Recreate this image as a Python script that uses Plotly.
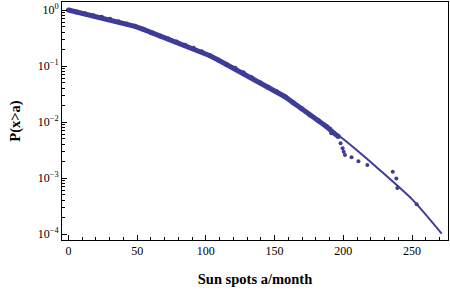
import plotly.graph_objects as go

# Empirical distribution P(x>a) of monthly sun spot numbers (dense part)
sun_a = [0.0, 5.9, 12.0, 18.1, 24.1, 30.2, 36.3, 42.3, 48.4, 54.5, 60.5, 66.6,
         72.7, 78.7, 84.8, 90.9, 96.9, 103.0, 109.0, 115.1, 121.2, 127.2, 133.3,
         139.4, 145.4, 151.5, 157.6, 163.6, 169.7, 175.8, 181.8, 187.9, 192.7, 196.4]
sun_p = [1.0, 0.920, 0.861, 0.793, 0.740, 0.681, 0.619, 0.562, 0.511, 0.452,
         0.394, 0.344, 0.303, 0.269, 0.234, 0.207, 0.180, 0.153, 0.128, 0.106,
         0.0908, 0.0760, 0.0619, 0.0504, 0.0416, 0.0348, 0.0283, 0.0221, 0.0175,
         0.0133, 0.0106, 0.00826, 0.00646, 0.00550]

# Sparse tail points
tail_a = [190.5, 191.2, 198.0, 199.5, 200.3, 201.2, 206.0, 211.0, 217.5,
          236.0, 238.6, 239.3, 253.4]
tail_p = [0.00759, 0.00631, 0.00417, 0.00339, 0.00295, 0.00257, 0.00234,
          0.00200, 0.00170, 0.00129, 0.000977, 0.000661, 0.000339]

# Fitted curve
fit_a = [0, 50, 100, 150, 175, 197.6, 209.7, 226.7, 250.5, 271.6]
fit_p = [1.0, 0.50, 0.165, 0.036, 0.0140, 0.0055, 0.00316, 0.00138,
         0.000407, 0.000102]

y_tickvals = [1, 0.1, 0.01, 0.001, 0.0001]
y_ticktext = ["10<sup>0</sup>", "10<sup>\u22121</sup>", "10<sup>\u22122</sup>",
              "10<sup>\u22123</sup>", "10<sup>\u22124</sup>"]
y_minorvals = [m * d for d in [1e-4, 1e-3, 1e-2, 1e-1] for m in range(2, 10)]
x_tickvals = [0, 50, 100, 150, 200, 250]

col = "rgb(61,61,153)"
font = "Liberation Serif, Times New Roman, serif"
y_range = [-4.107, 0.143]

fig = go.Figure()
fig.add_trace(go.Scatter(x=fit_a, y=fit_p, mode="lines",
                         line=dict(color=col, width=2, shape="spline", smoothing=0.6),
                         showlegend=False, hoverinfo="skip"))
fig.add_trace(go.Scatter(x=sun_a, y=sun_p, mode="lines+markers",
                         line=dict(color=col, width=5),
                         marker=dict(color=col, size=5),
                         showlegend=False))
fig.add_trace(go.Scatter(x=tail_a, y=tail_p, mode="markers",
                         marker=dict(color=col, size=4),
                         showlegend=False))
# invisible trace carrying the minor-tick axis
fig.add_trace(go.Scatter(x=[None], y=[None], yaxis="y2", showlegend=False,
                         hoverinfo="skip"))

fig.update_layout(
    width=450, height=290,
    margin=dict(l=62, r=2, t=2, b=50),
    paper_bgcolor="white", plot_bgcolor="white",
    font=dict(family=font, size=12, color="black"),
    xaxis=dict(range=[-4.7, 276.2], tickvals=x_tickvals, automargin=False,
               ticks="inside", ticklen=5, tickcolor="black",
               showline=True, linecolor="black", linewidth=1, mirror=True,
               showgrid=False, zeroline=False,
               minor=dict(ticks="inside", ticklen=3, dtick=10, tickcolor="black"),
               title=dict(text="<b>Sun spots a/month</b>", standoff=16,
                          font=dict(size=14.5))),
    yaxis=dict(type="log", range=y_range, automargin=False,
               tickvals=y_tickvals, ticktext=y_ticktext,
               ticks="inside", ticklen=5, tickcolor="black",
               showline=True, linecolor="black", linewidth=1, mirror=True,
               showgrid=False, zeroline=False,
               title=dict(text="<b>P(x>a)</b>", standoff=13,
                          font=dict(size=14.5))),
    yaxis2=dict(type="log", range=y_range, overlaying="y", side="left",
                automargin=False, tickvals=y_minorvals, showticklabels=False,
                ticks="inside", ticklen=3, tickcolor="black",
                showline=False, showgrid=False, zeroline=False),
)

fig.write_html("out.html", config={"displayModeBar": False})

# remove the default page margin so the figure sits at the window's corner
with open("out.html", "r", encoding="utf-8") as f:
    html = f.read()
html = html.replace("<head>", "<head><style>html,body{margin:0;padding:0;overflow:hidden;}</style>", 1)
with open("out.html", "w", encoding="utf-8") as f:
    f.write(html)
